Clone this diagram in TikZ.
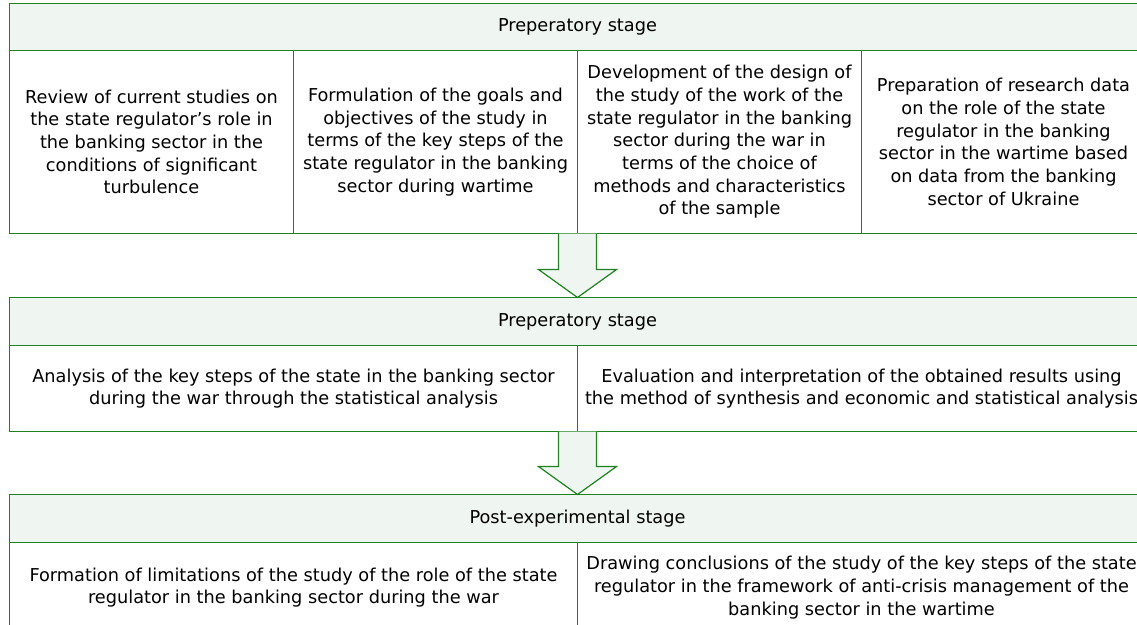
\documentclass[tikz,border=0pt]{standalone}
\usepackage{fontspec}
\setmainfont{DejaVu Sans}
\usetikzlibrary{calc}

\definecolor{stageline}{RGB}{30,130,30}
\definecolor{stagefill}{RGB}{239,245,240}

\tikzset{every picture/.style={line width=0.9pt}}
\tikzset{
  stagehead/.style={draw=stageline, fill=stagefill, minimum width=852pt, minimum height=35.25pt, inner sep=0pt, outer sep=0pt, font=\fontsize{13.3}{17}\selectfont},
  stepcell/.style={inner sep=0pt, outer sep=0pt, align=center, font=\fontsize{13.3}{17}\selectfont},
  cellframe/.style={draw=stageline},
  blockarrow/.style={draw=stageline, fill=stagefill, line join=miter}
}

\begin{document}
\begin{tikzpicture}[x=0.75pt,y=0.75pt,yscale=-1,xscale=1]
        \useasboundingbox (0,0) rectangle (1137,624);

        %Shape: Rectangle [id:head1] 
        \node [stagehead] (hA) at (577.5,27) {Preperatory stage};
        %Shape: Rectangle [id:row1] 
        \node [stepcell, minimum width=213pt, minimum height=137.25pt] (pa1) at (151.5,142) {Review of current studies on\\the state regulator's role in\\the banking sector in the\\conditions of significant\\turbulence};
        \node [stepcell, minimum width=213pt, minimum height=137.25pt] (pa2) at (435.5,142) {Formulation of the goals and\\objectives of the study in\\terms of the key steps of the\\state regulator in the banking\\sector during wartime};
        \node [stepcell, minimum width=213pt, minimum height=137.25pt] (pa3) at (719.5,142) {Development of the design of\\the study of the work of the\\state regulator in the banking\\sector during the war in\\terms of the choice of\\methods and characteristics\\of the sample};
        \node [stepcell, minimum width=213pt, minimum height=137.25pt] (pa4) at (1003.5,142) {Preparation of research data\\on the role of the state\\regulator in the banking\\sector in the wartime based\\on data from the banking\\sector of Ukraine};

        %Shape: Rectangle [id:head2] 
        \node [stagehead, minimum height=36pt] (hB) at (577.5,321.5) {Preperatory stage};
        %Shape: Rectangle [id:row2] 
        \node [stepcell, minimum width=426pt, minimum height=64.5pt] (pb1) at (293.5,388.5) {Analysis of the key steps of the state in the banking sector\\during the war through the statistical analysis};
        \node [stepcell, minimum width=426pt, minimum height=64.5pt] (pb2) at (861.5,388.5) {Evaluation and interpretation of the obtained results using\\the method of synthesis and economic and statistical analysis};

        %Shape: Rectangle [id:head3] 
        \node [stagehead, minimum height=36pt] (hC) at (577.5,518.5) {Post-experimental stage};
        %Shape: Rectangle [id:row3] 
        \node [stepcell, minimum width=426pt, minimum height=67.5pt] (pc1) at (293.5,587.5) {Formation of limitations of the study of the role of the state\\regulator in the banking sector during the war};
        \node [stepcell, minimum width=426pt, minimum height=67.5pt] (pc2) at (861.5,587.5) {Drawing conclusions of the study of the key steps of the state\\regulator in the framework of anti-crisis management of the\\banking sector in the wartime};

        %Shape: Cell frames 
        \foreach \cell in {pa1,pa2,pa3,pa4,pb1,pb2,pc1,pc2}
          \draw [cellframe] (\cell.north west) rectangle (\cell.south east) ;

        %Shape: Down Arrow [id:arrow1] 
        \draw [blockarrow] ($(pa2.south east)+(-19,0)$) -- ($(pa2.south east)+(-19,36)$) -- ($(pa2.south east)+(-39,36)$) -- (hB.north) -- ($(pa2.south east)+(39,36)$) -- ($(pa2.south east)+(19,36)$) -- ($(pa2.south east)+(19,0)$) ;
        %Shape: Down Arrow [id:arrow2] 
        \draw [blockarrow] ($(pb1.south east)+(-19,0)$) -- ($(pb1.south east)+(-19,35)$) -- ($(pb1.south east)+(-39,35)$) -- (hC.north) -- ($(pb1.south east)+(39,35)$) -- ($(pb1.south east)+(19,35)$) -- ($(pb1.south east)+(19,0)$) ;

    \end{tikzpicture}
\end{document}
